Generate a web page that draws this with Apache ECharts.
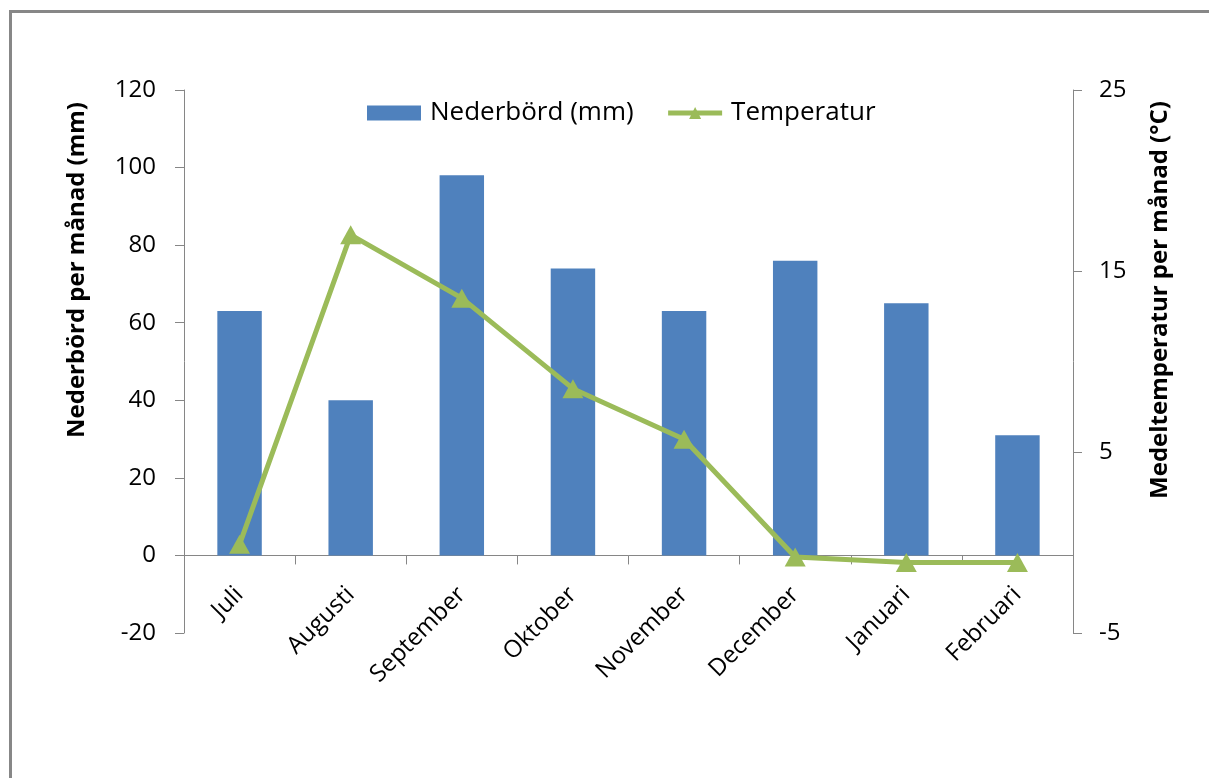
<!DOCTYPE html>
<html>
<head>
<meta charset="utf-8">
<script src="https://cdn.jsdelivr.net/npm/echarts@6/dist/echarts.min.js"></script>
<style>html,body{margin:0;padding:0;background:#fff;}#c{width:1209px;height:778px;}</style>
</head>
<body>
<div id="c"></div>
<script>
const categories = ['Juli','Augusti','September','Oktober','November','December','Januari','Februari'];
const precipitation = [63, 40, 98, 74, 63, 76, 65, 31];
const temperature = [-0.1, 17.0, 13.5, 8.5, 5.7, -0.8, -1.1, -1.1];
const leftTitle = 'Nederbörd per månad (mm)';
const rightTitle = 'Medeltemperatur per månad (°C)';

const FONT = '"Open Sans", sans-serif';
const axisColor = '#868686';
const chart = echarts.init(document.getElementById('c'));
chart.setOption({
  backgroundColor: '#ffffff',
  animation: false,
  textStyle: { fontFamily: FONT },
  graphic: [
    { type: 'rect', shape: { x: 10.5, y: 11.5, width: 1300, height: 900 }, style: { fill: 'none', stroke: '#878787', lineWidth: 3 } },
    { type: 'text', x: 77, y: 270, rotation: Math.PI / 2,
      style: { text: leftTitle, fontFamily: FONT, fontWeight: 'bold', fontSize: 24, fill: '#000', align: 'center', verticalAlign: 'middle' } },
    { type: 'text', x: 1160, y: 300, rotation: Math.PI / 2,
      style: { text: rightTitle, fontFamily: FONT, fontWeight: 'bold', fontSize: 24, fill: '#000', align: 'center', verticalAlign: 'middle' } }
  ],
  legend: {
    top: 95, left: 362,
    itemWidth: 54, itemHeight: 15, itemGap: 32,
    textStyle: { fontSize: 26, color: '#000', fontFamily: FONT, padding: [0, 0, 0, 4] },
    data: [
      { name: 'Nederbörd (mm)', icon: 'rect' },
      { name: 'Temperatur', lineStyle: { width: 5, color: '#9BBB59' } }
    ]
  },
  grid: { left: 184, right: 136, top: 90, bottom: 145 },
  xAxis: {
    type: 'category',
    data: categories,
    boundaryGap: true,
    axisLine: { onZero: true, lineStyle: { color: axisColor, width: 1 } },
    axisTick: { show: true, interval: 0, length: 9, lineStyle: { color: axisColor } },
    axisLabel: { rotate: 45, interval: 0, margin: -42, fontSize: 24, color: '#000', fontFamily: FONT },
    splitLine: { show: false }
  },
  yAxis: [
    {
      type: 'value', min: -20, max: 120, interval: 20, position: 'left',
      axisLine: { show: true, lineStyle: { color: axisColor } },
      axisTick: { show: true, length: 9, lineStyle: { color: axisColor } },
      axisLabel: { fontSize: 24, color: '#000', margin: 28, fontFamily: FONT },
      splitLine: { show: false }
    },
    {
      type: 'value', min: -5, max: 25, interval: 10, position: 'right',
      axisLine: { show: true, lineStyle: { color: axisColor } },
      axisTick: { show: true, length: 9, lineStyle: { color: axisColor } },
      axisLabel: { fontSize: 24, color: '#000', margin: 26, fontFamily: FONT },
      splitLine: { show: false }
    }
  ],
  series: [
    {
      name: 'Nederbörd (mm)', type: 'bar', data: precipitation, yAxisIndex: 0,
      barWidth: '40%', itemStyle: { color: '#4F81BD' }
    },
    {
      name: 'Temperatur', type: 'line', data: temperature, yAxisIndex: 1,
      symbol: 'triangle', symbolSize: [21, 19],
      lineStyle: { color: '#9BBB59', width: 5 },
      itemStyle: { color: '#9BBB59' }
    }
  ]
});
</script>
</body>
</html>
